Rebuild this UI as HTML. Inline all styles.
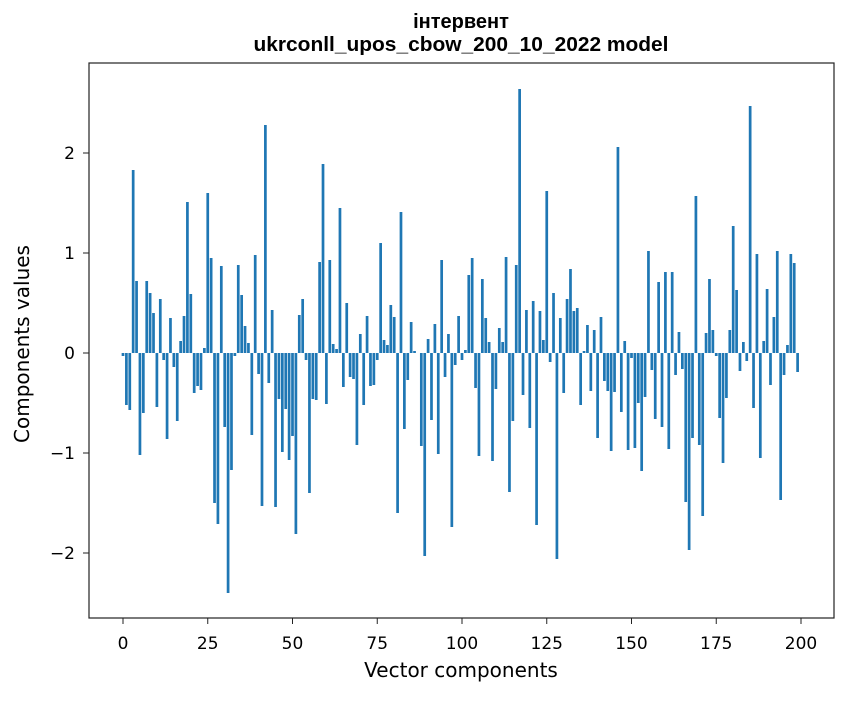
<!DOCTYPE html>
<html><head><meta charset="utf-8"><style>
body{margin:0;background:#fff;}
svg text{font-family:"DejaVu Sans","Liberation Sans",sans-serif;fill:#000;}
svg text.ttl{font-family:"Liberation Sans","DejaVu Sans",sans-serif;}
</style></head><body>
<svg id="chart" width="847" height="696" xmlns="http://www.w3.org/2000/svg">
<rect width="847" height="696" fill="#fff"/>
<text class="ttl" x="461" y="28" text-anchor="middle" font-size="20" font-weight="bold">інтервент</text>
<text class="ttl" x="461" y="51" text-anchor="middle" font-size="20" font-weight="bold" textLength="415" lengthAdjust="spacingAndGlyphs">ukrconll_upos_cbow_200_10_2022 model</text>
<g id="bars"></g>
<rect x="89" y="63" width="745" height="555" fill="none" stroke="#222" stroke-width="1.2"/>
<g id="xticks"></g>
<g id="yticks"></g>
<text x="461" y="677" text-anchor="middle" font-size="20">Vector components</text>
<text transform="translate(29,344) rotate(-90)" text-anchor="middle" font-size="20">Components values</text>
</svg>
<script>
const values = [-0.03,-0.52,-0.57,1.83,0.72,-1.02,-0.6,0.72,0.6,0.4,-0.54,0.54,-0.07,-0.86,0.35,-0.14,-0.68,0.12,0.37,1.51,0.59,-0.4,-0.33,-0.37,0.05,1.6,0.95,-1.5,-1.71,0.87,-0.74,-2.4,-1.17,-0.03,0.88,0.58,0.27,0.1,-0.82,0.98,-0.21,-1.53,2.28,-0.3,0.43,-1.54,-0.46,-0.99,-0.56,-1.07,-0.83,-1.81,0.38,0.54,-0.07,-1.4,-0.46,-0.47,0.91,1.89,-0.51,0.93,0.09,0.04,1.45,-0.34,0.5,-0.24,-0.26,-0.92,0.19,-0.52,0.37,-0.33,-0.32,-0.07,1.1,0.13,0.08,0.48,0.36,-1.6,1.41,-0.76,-0.27,0.31,0.02,0,-0.93,-2.03,0.14,-0.67,0.29,-1.01,0.93,-0.24,0.19,-1.74,-0.12,0.37,-0.07,0.03,0.78,0.95,-0.35,-1.03,0.74,0.35,0.11,-1.08,-0.36,0.25,0.11,0.96,-1.39,-0.68,0.88,2.64,-0.42,0.43,-0.75,0.52,-1.72,0.42,0.13,1.62,-0.09,0.6,-2.06,0.35,-0.4,0.54,0.84,0.42,0.45,-0.52,0.02,0.28,-0.38,0.23,-0.85,0.36,-0.28,-0.38,-0.98,-0.39,2.06,-0.59,0.12,-0.97,-0.05,-0.95,-0.5,-1.18,-0.44,1.02,-0.17,-0.66,0.71,-0.74,0.81,-0.96,0.81,-0.22,0.21,-0.16,-1.49,-1.97,-0.85,1.57,-0.92,-1.63,0.2,0.74,0.23,-0.03,-0.65,-1.1,-0.45,0.23,1.27,0.63,-0.18,0.11,-0.08,2.47,-0.55,0.99,-1.05,0.12,0.64,-0.32,0.36,1.02,-1.47,-0.22,0.08,0.99,0.9,-0.19];
const xTickLabels = [0,25,50,75,100,125,150,175,200];
const yTickLabels = [-2,-1,0,1,2];
const NS="http://www.w3.org/2000/svg";
const xs = v => 123 + v*3.39;
const ys = v => 353 - v*100;
const bars=document.getElementById('bars');
values.forEach((v,i)=>{
  const r=document.createElementNS(NS,'rect');
  const y0=ys(Math.max(v,0)), y1=ys(Math.min(v,0));
  r.setAttribute('x',xs(i-0.4));
  r.setAttribute('y',y0);
  r.setAttribute('width',3.39*0.8);
  r.setAttribute('height',Math.max(y1-y0,0));
  r.setAttribute('fill','#1f77b4');
  
  
  bars.appendChild(r);
});
const xt=document.getElementById('xticks');
xTickLabels.forEach(t=>{
  const l=document.createElementNS(NS,'line');
  l.setAttribute('x1',xs(t));l.setAttribute('x2',xs(t));l.setAttribute('y1',618);l.setAttribute('y2',624);l.setAttribute('stroke','#222');
  
  
  xt.appendChild(l);
  const tx=document.createElementNS(NS,'text');
  tx.setAttribute('x',xs(t));tx.setAttribute('y',649);tx.setAttribute('text-anchor','middle');tx.setAttribute('font-size','17');
  tx.textContent=t;
  
  
  xt.appendChild(tx);
});
const yt=document.getElementById('yticks');
yTickLabels.forEach(t=>{
  const l=document.createElementNS(NS,'line');
  l.setAttribute('x1',83);l.setAttribute('x2',89);l.setAttribute('y1',ys(t));l.setAttribute('y2',ys(t));l.setAttribute('stroke','#222');
  
  
  yt.appendChild(l);
  const tx=document.createElementNS(NS,'text');
  tx.setAttribute('x',75);tx.setAttribute('y',ys(t)+6);tx.setAttribute('text-anchor','end');tx.setAttribute('font-size','17');
  tx.textContent=t<0?'\u2212'+Math.abs(t):String(t);
  
  
  yt.appendChild(tx);
});
</script>
</body></html>
